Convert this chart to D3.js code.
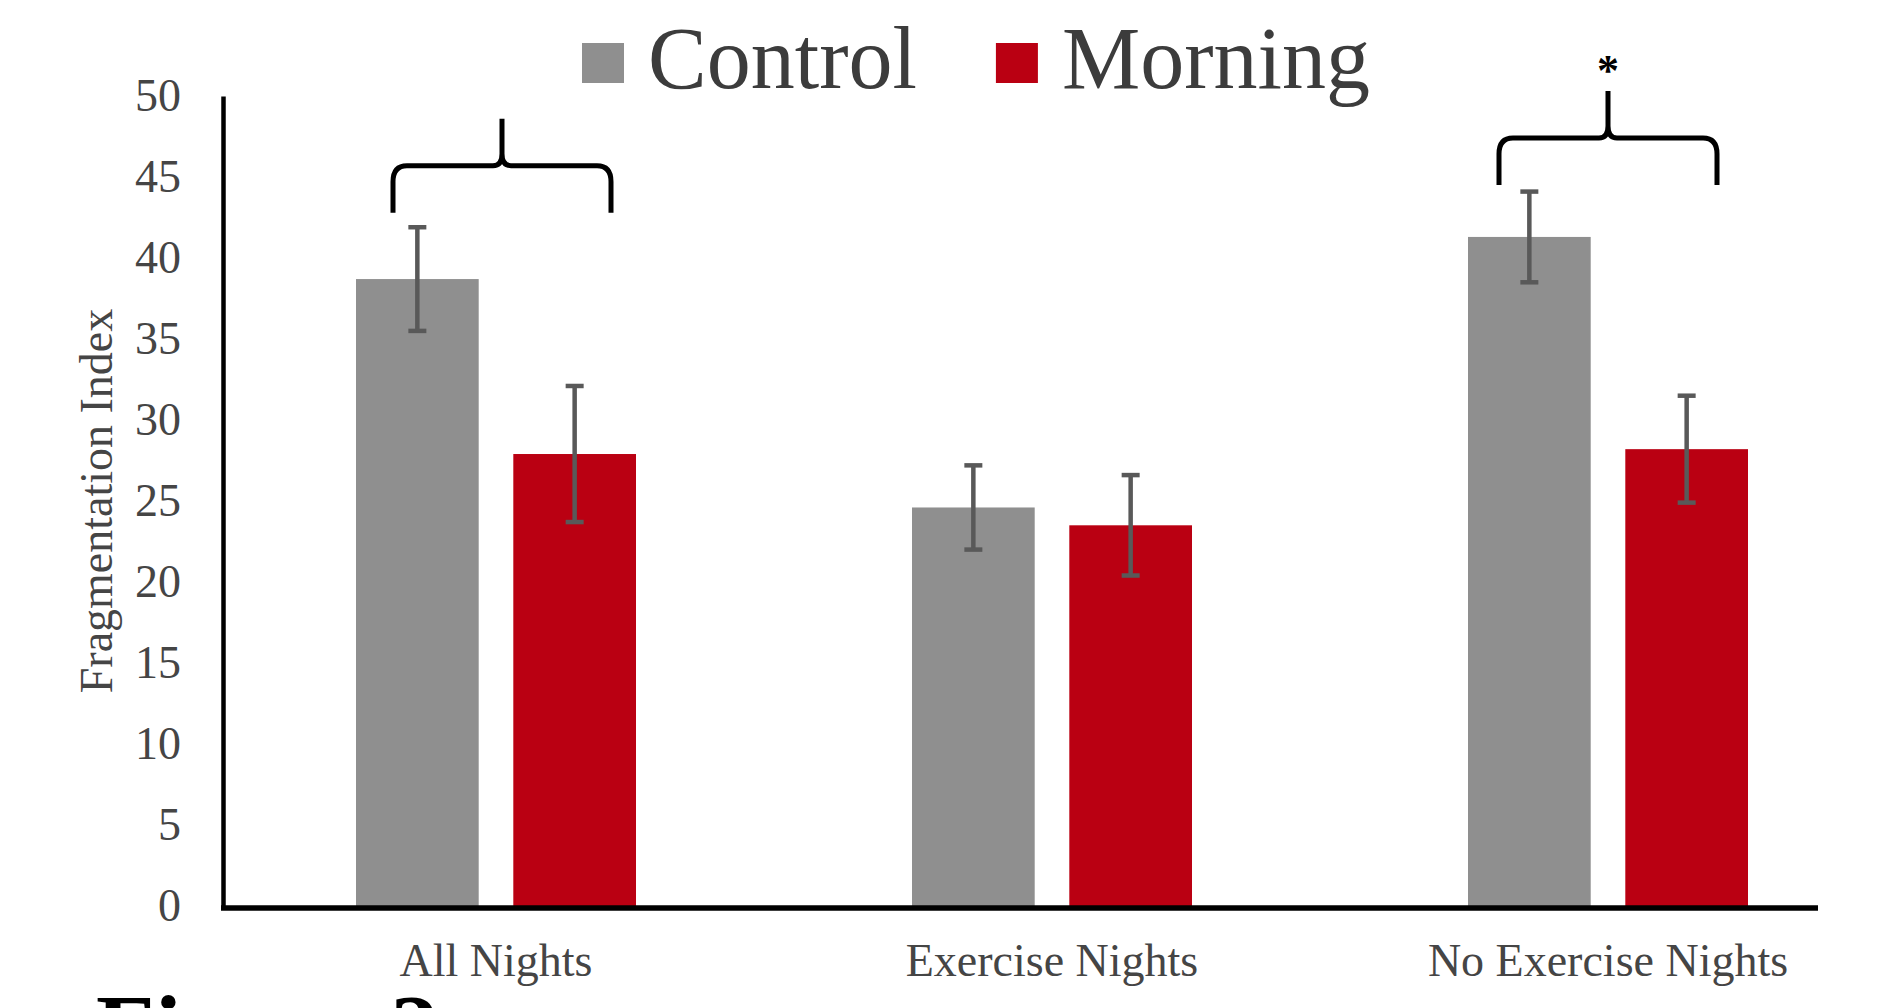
<!DOCTYPE html>
<html>
<head>
<meta charset="utf-8">
<script src="https://cdn.jsdelivr.net/npm/d3@7"></script>
<style>
  html, body { margin: 0; padding: 0; background: #ffffff; }
  svg { display: block; }
  text { font-family: "Liberation Serif", "Times New Roman", serif; }
</style>
</head>
<body>
<svg id="chart" width="1890" height="1008"></svg>
<script>
// Sleep fragmentation by night type, control vs. morning exercise group
const categories = ["All Nights", "Exercise Nights", "No Exercise Nights"];
const seriesNames = ["Control", "Morning"];
const controlMeans = [38.7, 24.6, 41.3];
const controlErrors = [3.2, 2.6, 2.8];
const morningMeans = [27.9, 23.5, 28.2];
const morningErrors = [4.2, 3.1, 3.3];
const yTickValues = [0, 5, 10, 15, 20, 25, 30, 35, 40, 45, 50];
const yTitle = "Fragmentation Index";
const figureCaption = "Figure 2";

// Comparison brackets drawn above the pairs of bars
const bracketCategories = ["All Nights", "No Exercise Nights"];
const bracketBaseValues = [42.8, 44.5];
const bracketMarks = ["", "*"];

const seriesColors = { Control: "#8f8f8f", Morning: "#ba0012" };
const textColor = "#454545";

const svg = d3.select("#chart");

const y = d3.scaleLinear().domain([0, 50]).range([906, 96]);
const x0 = d3.scaleBand().domain(categories).range([218, 1886]);
const x1 = d3.scaleBand().domain(seriesNames).range([-140, 140]).paddingInner(0.22);

const rows = categories.map((c, i) => ({
  category: c,
  values: [
    { series: "Control", mean: controlMeans[i], err: controlErrors[i] },
    { series: "Morning", mean: morningMeans[i], err: morningErrors[i] }
  ]
}));

const center = c => x0(c) + x0.bandwidth() / 2;

// Bars
const groups = svg.append("g").selectAll("g.cat")
  .data(rows).join("g")
  .attr("class", "cat")
  .attr("transform", d => `translate(${center(d.category)},0)`);

groups.selectAll("rect")
  .data(d => d.values).join("rect")
  .attr("x", d => x1(d.series))
  .attr("width", x1.bandwidth())
  .attr("y", d => y(d.mean))
  .attr("height", d => y(0) - y(d.mean))
  .attr("fill", d => seriesColors[d.series]);

// Error bars
const capHalf = 9;
const eb = groups.selectAll("g.err")
  .data(d => d.values).join("g")
  .attr("class", "err")
  .attr("transform", d => `translate(${x1(d.series) + x1.bandwidth() / 2},0)`)
  .attr("stroke", "#595959")
  .attr("stroke-width", 4.5);
eb.append("line")
  .attr("x1", 0).attr("x2", 0)
  .attr("y1", d => y(d.mean + d.err))
  .attr("y2", d => y(d.mean - d.err));
eb.append("line")
  .attr("x1", -capHalf).attr("x2", capHalf)
  .attr("y1", d => y(d.mean + d.err)).attr("y2", d => y(d.mean + d.err));
eb.append("line")
  .attr("x1", -capHalf).attr("x2", capHalf)
  .attr("y1", d => y(d.mean - d.err)).attr("y2", d => y(d.mean - d.err));

// Y axis
const yAxis = svg.append("g")
  .attr("transform", `translate(223,0)`)
  .call(d3.axisLeft(y).tickValues(yTickValues).tickSize(0).tickPadding(42));
yAxis.select(".domain").attr("stroke", "#000").attr("stroke-width", 4.5);
yAxis.selectAll("text")
  .attr("font-family", "Liberation Serif")
  .attr("font-size", 46)
  .attr("fill", textColor);

// X axis (labels) and baseline
const xAxis = svg.append("g")
  .attr("transform", `translate(0,${y(0)})`)
  .call(d3.axisBottom(x0).tickSize(0).tickPadding(0));
xAxis.select(".domain").remove();
xAxis.selectAll("text")
  .attr("font-family", "Liberation Serif")
  .attr("font-size", 46)
  .attr("fill", textColor)
  .attr("dy", null)
  .attr("y", 70);

svg.append("line")
  .attr("x1", 221).attr("x2", 1818)
  .attr("y1", y(0) + 2).attr("y2", y(0) + 2)
  .attr("stroke", "#000").attr("stroke-width", 5.5);

// Y axis title
svg.append("text")
  .attr("transform", `translate(112,501) rotate(-90)`)
  .attr("text-anchor", "middle")
  .attr("font-size", 46)
  .attr("fill", textColor)
  .text(yTitle);

// Brackets
const bracketHalf = 109;
const rise = 47;
bracketCategories.forEach((c, i) => {
  const xc = center(c) + (i === 0 ? 6 : 0);
  const xl = xc - bracketHalf, xr = xc + bracketHalf;
  const yb = y(bracketBaseValues[i]);
  const yh = yb - rise;
  const yp = yh - rise;
  const p = d3.path();
  p.moveTo(xl, yb);
  p.lineTo(xl, yh + 16);
  p.quadraticCurveTo(xl, yh, xl + 14, yh);
  p.lineTo(xc - 9, yh);
  p.quadraticCurveTo(xc, yh, xc, yh - 12);
  p.lineTo(xc, yp);
  p.moveTo(xr, yb);
  p.lineTo(xr, yh + 16);
  p.quadraticCurveTo(xr, yh, xr - 14, yh);
  p.lineTo(xc + 9, yh);
  p.quadraticCurveTo(xc, yh, xc, yh - 12);
  svg.append("path")
    .attr("d", p.toString())
    .attr("fill", "none")
    .attr("stroke", "#000")
    .attr("stroke-width", 5);
  if (bracketMarks[i]) {
    svg.append("text")
      .attr("x", xc)
      .attr("y", yp - 6)
      .attr("text-anchor", "middle")
      .attr("font-weight", "bold")
      .attr("font-size", 44)
      .attr("fill", "#000")
      .text(bracketMarks[i]);
  }
});

// Legend
const legend = svg.append("g");
let lx = 582;
seriesNames.forEach(s => {
  legend.append("rect")
    .attr("x", lx).attr("y", 43)
    .attr("width", 42).attr("height", 40)
    .attr("fill", seriesColors[s]);
  const t = legend.append("text")
    .attr("x", lx + 66).attr("y", 88)
    .attr("font-size", 88)
    .attr("fill", "#3c3c3c")
    .text(s);
  lx = lx + 66 + t.node().getComputedTextLength() + 79;
});

// Caption (partly below the page edge)
svg.append("text")
  .attr("x", 96).attr("y", 1061)
  .attr("font-size", 96)
  .attr("font-weight", "bold")
  .attr("fill", "#000")
  .text(figureCaption);
</script>
</body>
</html>
